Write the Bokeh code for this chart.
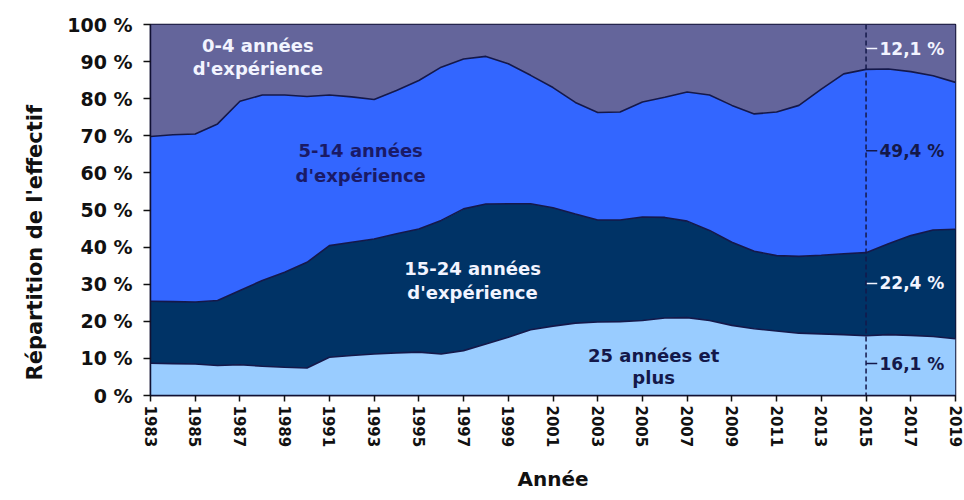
from bokeh.plotting import figure
from bokeh.models import ColumnDataSource, Range1d, FixedTicker, Span, Title
from bokeh.core.properties import value
from bokeh.embed import file_html
from bokeh.resources import INLINE

# ---- data (shares in %) ----
years = list(range(1983, 2020))
exp_25_plus = [8.7, 8.6, 8.5, 8.1, 8.3, 7.9, 7.6, 7.4, 10.3, 10.8, 11.2, 11.5, 11.7, 11.2, 12.1,
               13.9, 15.7, 17.7, 18.7, 19.5, 19.8, 19.9, 20.2, 20.9, 21.0, 20.2, 18.9, 18.0,
               17.4, 16.8, 16.6, 16.4, 16.1, 16.4, 16.2, 15.9, 15.3]
exp_15_24 = [16.7, 16.7, 16.7, 17.5, 20.0, 23.1, 25.6, 28.5, 30.1, 30.5, 31.0, 32.1, 33.2, 36.0,
             38.2, 37.7, 36.0, 34.0, 31.9, 29.4, 27.5, 27.4, 27.9, 27.1, 26.0, 24.3, 22.4, 20.9,
             20.3, 20.7, 21.2, 21.8, 22.4, 24.5, 26.9, 28.7, 29.5]
exp_5_14 = [44.4, 45.0, 45.3, 47.6, 51.0, 50.0, 47.8, 44.7, 40.6, 39.2, 37.6, 38.6, 40.0, 41.3,
            40.4, 39.8, 37.7, 34.6, 32.4, 30.1, 29.0, 29.1, 31.0, 32.4, 34.8, 36.5, 36.9, 37.0,
            38.7, 40.7, 44.8, 48.5, 49.4, 47.1, 44.2, 41.6, 39.6]
exp_0_4 = [30.2, 29.7, 29.5, 26.8, 20.7, 19.0, 19.0, 19.4, 19.0, 19.5, 20.2, 17.8, 15.1, 11.5,
           9.3, 8.6, 10.6, 13.7, 17.0, 21.0, 23.7, 23.6, 20.9, 19.6, 18.2, 19.0, 21.8, 24.1,
           23.6, 21.8, 17.4, 13.3, 12.1, 12.0, 12.7, 13.8, 15.6]
category_labels = ["25 années et\nplus", "15-24 années\nd'expérience",
                   "5-14 années\nd'expérience", "0-4 années\nd'expérience"]
ref_year = 2015
y_ticks = list(range(0, 101, 10))
x_ticks = list(range(1983, 2020, 2))

FONT = value("DejaVu Sans")
C_TOP = "#64659b"
C_MID = "#3366ff"
C_DARK = "#003366"
C_LIGHT = "#99ccff"
NAVY = "#14184a"
WHITE = "#f2f4ff"

src = ColumnDataSource(dict(year=years, s25=exp_25_plus, s15=exp_15_24, s5=exp_5_14, s0=exp_0_4))

p = figure(width=964, height=498, output_backend="svg", toolbar_location=None,
           x_range=Range1d(1983, 2019), y_range=Range1d(0, 100),
           min_border_left=150, min_border_right=9, min_border_top=24, min_border_bottom=103)
p.background_fill_color = "white"
p.border_fill_color = "white"
p.outline_line_color = "#111133"
p.outline_line_width = 1.5
p.xgrid.visible = False
p.ygrid.visible = False

p.varea_stack(stackers=["s25", "s15", "s5", "s0"], x="year",
              color=[C_LIGHT, C_DARK, C_MID, C_TOP], source=src)
p.vline_stack(stackers=["s25", "s15", "s5"], x="year", color=NAVY, line_width=1.6, source=src)

p.add_layout(Span(location=ref_year, dimension="height", line_color=NAVY,
                  line_width=1.5, line_dash="5 3"))

# category labels inside areas (positions are layout choices)
lab_x = [2005.5, 1997.4, 1992.4, 1987.8]
lab_y = [[10.8, 4.9], [34.2, 27.8], [66.0, 59.3], [94.3, 88.1]]
lab_col = [NAVY, WHITE, "#1a1a66", WHITE]
for lbl, lx, ly, lc in zip(category_labels, lab_x, lab_y, lab_col):
    lines = lbl.split("\n")
    p.text(x=[lx] * len(lines), y=ly, text=lines, text_align="center", text_baseline="middle",
           text_font=FONT, text_font_style="bold", text_font_size="18px", text_color=lc)

# values at reference year
idx = years.index(ref_year)
ref_vals = [exp_0_4[idx], exp_5_14[idx], exp_15_24[idx], exp_25_plus[idx]]
ref_texts = [f"{v:.1f}".replace(".", ",") + " %" for v in ref_vals]
ref_y = [93.5, 66.0, 30.2, 8.6]
ref_col = [WHITE, NAVY, WHITE, NAVY]
p.segment(x0=[ref_year] * 4, x1=[ref_year + 0.5] * 4, y0=ref_y, y1=ref_y,
          line_color=ref_col, line_width=1.5)
p.text(x=[ref_year + 0.6] * 4, y=ref_y, text=ref_texts, text_align="left",
       text_baseline="middle", text_font=FONT, text_font_style="bold",
       text_font_size="17px", text_color=ref_col)

# axes
p.yaxis.ticker = FixedTicker(ticks=y_ticks)
p.yaxis.major_label_overrides = {v: f"{v} %" for v in y_ticks}
p.yaxis.major_tick_out = 7
p.yaxis.major_tick_in = 0
p.yaxis.minor_tick_line_color = None
p.yaxis.major_label_standoff = 11

ytitle = Title(text="Répartition de l'effectif", align="left", offset=15, standoff=36,
               text_font="DejaVu Sans", text_font_style="bold", text_font_size="21px",
               text_color="#111111")
p.add_layout(ytitle, "left")

p.xaxis.ticker = FixedTicker(ticks=x_ticks)
p.xaxis.major_label_orientation = "vertical"
p.xaxis.major_tick_out = 6
p.xaxis.major_tick_in = 0
p.xaxis.minor_tick_line_color = None
p.xaxis.major_label_standoff = 4
p.xaxis.axis_label = "Année"
p.xaxis.axis_label_standoff = 17

for ax in (p.xaxis, p.yaxis):
    ax.axis_line_color = "#111133"
    ax.axis_line_width = 1.5
    ax.major_tick_line_color = "#111111"
    ax.major_tick_line_width = 1.5
    ax.major_label_text_font = "DejaVu Sans"
    ax.major_label_text_font_style = "bold"
    ax.major_label_text_color = "#111111"
    ax.axis_label_text_font = "DejaVu Sans"
    ax.axis_label_text_font_style = "bold"
    ax.axis_label_text_font_size = "20px"
    ax.axis_label_text_color = "#111111"
p.yaxis.major_label_text_font_size = "19px"
p.xaxis.major_label_text_font_size = "15px"

open("out.html", "w").write(file_html(p, INLINE))
